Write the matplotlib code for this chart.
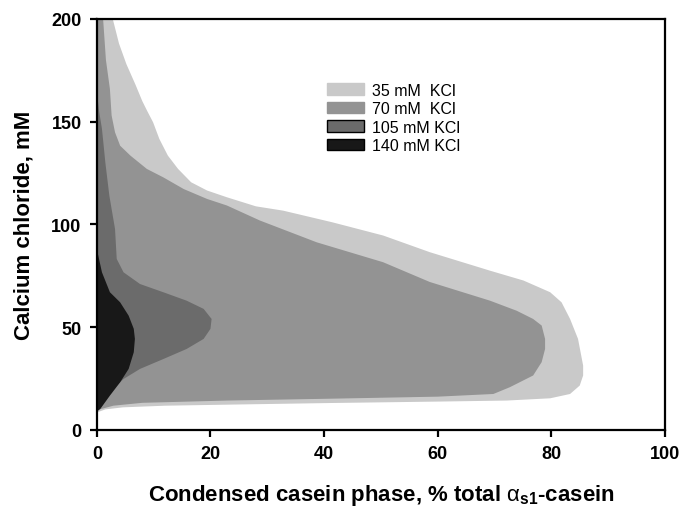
#Calcium chloride vs condensed casein phase at different KCl levels
import matplotlib
matplotlib.use('Agg')
import matplotlib.pyplot as plt
from matplotlib.patches import Patch

plt.rcParams['font.family'] = ['Liberation Sans', 'DejaVu Sans']
plt.rcParams['mathtext.fontset'] = 'custom'
plt.rcParams['mathtext.rm'] = 'Liberation Sans'
plt.rcParams['mathtext.it'] = 'Liberation Sans:italic'
plt.rcParams['mathtext.bf'] = 'Liberation Sans:bold'

#Boundary of each condensed region (x = % casein, y = CaCl2 mM), bottom to top
kcl35_x = [0, 1.5, 4.6, 12, 25, 41, 60, 72.1, 79.8, 83.3, 85, 85.6, 85.6, 84.7, 83.3, 81.8,
           79.8, 75.1, 69.2, 58.6, 50.4, 41.5, 32.8, 28, 22.9, 19.4, 16.6, 14.3, 12.5, 11,
           9.9, 8.9, 8, 6.8, 5.2, 3.9, 2.8]
kcl35_y = [8.5, 10, 11, 11.8, 12.4, 13.1, 13.8, 14.3, 15.4, 17.5, 21.6, 26.5, 31.3, 44.3, 54, 62.1,
           67, 72.7, 77.5, 86.5, 94.6, 101, 106.7, 108.8, 113.2, 116.5, 120.5, 127, 133.5, 141.6,
           149.7, 155, 160, 168, 178, 188, 200]

kcl70_x = [0, 0.5, 2.9, 8, 22.9, 41, 60, 69.8, 72.7, 76.8, 78.3, 78.9, 78.9, 78.3, 76.8, 73.9,
           69.2, 58.6, 50.4, 38.7, 28.7, 22.9, 19.4, 15.3, 11.7, 8.8, 5.9, 4.1, 3.2, 2.6, 2.3,
           1.6, 1.1]
kcl70_y = [9, 10, 11.8, 13.2, 14.3, 15.2, 16.2, 17.5, 20.8, 26.5, 33, 39.4, 44.3, 50.8, 54, 58,
           62.9, 72, 81.6, 91.3, 101.9, 109.2, 112.4, 117.2, 122.9, 127, 133.5, 138.3, 144.8, 153, 165.9,
           180, 200]

kcl105_x = [0, 0.9, 2.3, 4.7, 7.6, 11.7, 15.8, 18.8, 20, 20.2, 18.8, 15.8, 11.7, 7.6, 4.7,
            3.5, 3.2, 2.6, 2.2, 1.5, 0.9, 0.4, 0]
kcl105_y = [9, 11.8, 18.3, 24.8, 29.7, 34.5, 39.4, 44.3, 49.2, 54, 58.9, 62.9, 67, 71, 76.7,
            83.2, 97.8, 107.5, 114, 130, 146.5, 155, 165]

kcl140_x = [0, 0.6, 2.3, 4.1, 5.6, 6.5, 6.7, 6.5, 5.6, 4.1, 2.3, 0.9, 0]
kcl140_y = [9, 10.2, 16.7, 23.2, 29.7, 37.8, 44.3, 49.2, 55.6, 62.1, 67, 76.7, 88]

labels = ['35 mM  KCl', '70 mM  KCl', '105 mM KCl', '140 mM KCl']
colors = ['#c9c9c9', '#939393', '#6b6b6b', '#181818']

fig = plt.figure(figsize=(6.82, 5.10), dpi=100)
ax = fig.add_axes([0.142, 0.155, 0.833, 0.806])

curves = [(kcl35_x, kcl35_y), (kcl70_x, kcl70_y), (kcl105_x, kcl105_y), (kcl140_x, kcl140_y)]
for (cx, cy), c in zip(curves, colors):
    #close each region along the y axis
    ax.fill([0] + cx + [0], [cy[0]] + cy + [cy[-1]], color=c, lw=0)

ax.set_xlim(0, 100)
ax.set_ylim(0, 200)
ax.set_xticks([0, 20, 40, 60, 80, 100])
ax.set_yticks([0, 50, 100, 150, 200])
for s in ax.spines.values():
    s.set_linewidth(1.6)
ax.tick_params(direction='out', length=5, width=1.6, labelsize=13, pad=6)
for t in ax.get_xticklabels() + ax.get_yticklabels():
    t.set_fontweight('bold')

ax.set_xlabel(r'Condensed casein phase, % total $\mathrm{\alpha}_{\mathbf{s1}}$-casein',
              fontsize=16, fontweight='bold', labelpad=14)
ax.set_ylabel('Calcium chloride, mM', fontsize=16, fontweight='bold', labelpad=12)

handles = [Patch(facecolor=colors[0], edgecolor=colors[0]),
           Patch(facecolor=colors[1], edgecolor=colors[1]),
           Patch(facecolor=colors[2], edgecolor='black'),
           Patch(facecolor=colors[3], edgecolor='black')]
ax.legend(handles, labels, loc='upper left', bbox_to_anchor=(0.405, 0.845), frameon=False,
          fontsize=11.5, handlelength=2.3, handleheight=0.75, handletextpad=0.55,
          labelspacing=0.22, borderpad=0, borderaxespad=0)

plt.savefig('out.png', dpi=100)
